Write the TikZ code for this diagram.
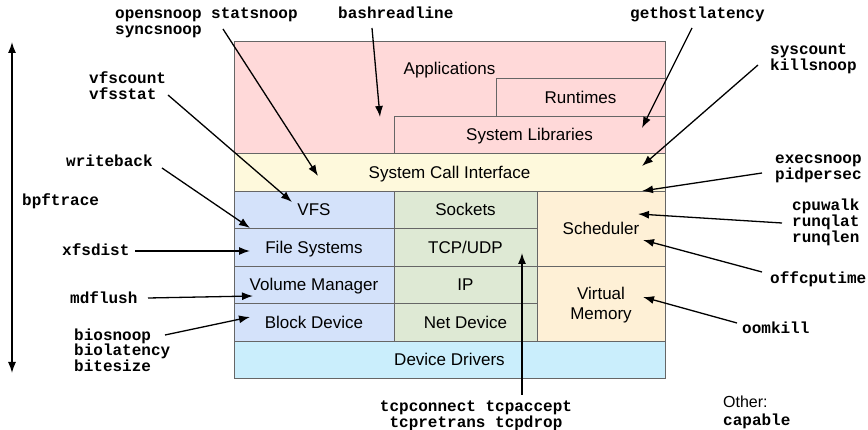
\documentclass[tikz,border=0pt]{standalone}
\usepackage{fontspec}
\setmainfont{Liberation Sans}
\setmonofont{Liberation Mono}
\usepackage{tikz}
\usetikzlibrary{arrows.meta,positioning}
\definecolor{appfill}{HTML}{FFD9D9}
\definecolor{scifill}{HTML}{FEF9DC}
\definecolor{fsfill}{HTML}{D4E2FA}
\definecolor{netfill}{HTML}{DEE9D4}
\definecolor{cpufill}{HTML}{FEF0D6}
\definecolor{devfill}{HTML}{CAEEFC}
\definecolor{edge}{HTML}{666666}
\tikzset{
  >={Latex[length=11pt,width=8pt]},
  boxtext/.style={font=\fontsize{17}{20}\selectfont, inner sep=0pt, align=center},
  box/.style={boxtext, draw=edge, line width=0.9pt, outer sep=0pt},
  layer/.style={box, text height=14pt, text depth=1.5pt},
  tool/.style={font=\ttfamily\bfseries\fontsize{16}{16}\selectfont,
    inner sep=0pt, align=left, anchor=base west},
  probe/.style={->, line width=1.3pt}
}

\begin{document}
\begin{tikzpicture}[x=1pt,y=-1pt]
  \useasboundingbox (0,0) rectangle (868,430);

  \node[box, fill=appfill, minimum width=431pt, minimum height=112pt] (apps) at (449.5,97) {};
  \node[boxtext, text height=14pt, text depth=1.5pt] (appslabel) at (449.5,68) {Applications};
  \node[layer, fill=appfill, minimum width=169pt, minimum height=38pt] (runtimes) at (580.5,97) {Runtimes};
  \node[layer, fill=appfill, minimum width=271pt, minimum height=37pt] (syslib) at (529.5,134.5) {System Libraries};
  \node[layer, fill=scifill, minimum width=431pt, minimum height=38pt] (sci) at (449.5,172) {System Call Interface};

  \node[layer, fill=fsfill, minimum width=160pt, minimum height=37.5pt] (vfs) at (314,209.75) {VFS};
  \node[layer, fill=fsfill, minimum width=160pt, minimum height=37.5pt, below=0pt of vfs] (fs) {File Systems};
  \node[layer, fill=fsfill, minimum width=160pt, minimum height=37.5pt, below=0pt of fs] (volume) {Volume Manager};
  \node[layer, fill=fsfill, minimum width=160pt, minimum height=37.5pt, below=0pt of volume] (block) {Block Device};

  \node[layer, fill=netfill, minimum width=143pt, minimum height=37.5pt, right=0pt of vfs] (sockets) {Sockets};
  \node[layer, fill=netfill, minimum width=143pt, minimum height=37.5pt, below=0pt of sockets] (tcp) {TCP/UDP};
  \node[layer, fill=netfill, minimum width=143pt, minimum height=37.5pt, below=0pt of tcp] (ip) {IP};
  \node[layer, fill=netfill, minimum width=143pt, minimum height=37.5pt, below=0pt of ip] (netdev) {Net Device};

  \node[layer, fill=cpufill, minimum width=128pt, minimum height=75pt] (sched) at (601,228.5) {Scheduler};
  \node[box, fill=cpufill, minimum width=128pt, minimum height=75pt, text height=34pt, text depth=1.5pt,
    below=0pt of sched] (vm) {Virtual\\Memory};

  \node[layer, fill=devfill, minimum width=431pt, minimum height=37pt] (drivers) at (449.5,359.5) {Device Drivers};

  % multi-line labels sit on their last baseline
  \node[tool] (opensnoop) at (115,35) {opensnoop statsnoop\\syncsnoop};
  \node[tool] (bashreadline) at (338,19) {bashreadline};
  \node[tool] (gethostlatency) at (630,19) {gethostlatency};
  \node[tool] (syscount) at (770,71) {syscount\\killsnoop};
  \node[tool] (vfscount) at (89,100) {vfscount\\vfsstat};
  \node[tool] (writeback) at (66,167) {writeback};
  \node[tool] (bpftrace) at (22,206) {bpftrace};
  \node[tool] (xfsdist) at (62,256) {xfsdist};
  \node[tool] (mdflush) at (70,304) {mdflush};
  \node[tool] (biosnoop) at (74,372) {biosnoop\\biolatency\\bitesize};
  \node[tool] (execsnoop) at (775,180) {execsnoop\\pidpersec};
  \node[tool] (cpuwalk) at (792,243) {cpuwalk\\runqlat\\runqlen};
  \node[tool] (offcputime) at (770,284) {offcputime};
  \node[tool] (oomkill) at (742,334) {oomkill};
  \node[tool, anchor=base, align=center] (tcpconnect) at (476,428) {tcpconnect tcpaccept\\tcpretrans tcpdrop};
  \node[boxtext, font=\fontsize{16}{16}\selectfont, anchor=base west] (other) at (723,407) {Other:};
  \node[tool] (capable) at (723,425) {capable};

  \coordinate (apptip) at (380,117);
  \coordinate (libtip) at (642,128);
  \coordinate (scitip) at (318,176);
  \coordinate (sysctip) at (642,166);
  \coordinate (exectip) at (642,191);
  \coordinate (vfstip) at (292,202);
  \coordinate (wbtip) at (250,228);
  \coordinate (fstip) at (250,251);
  \coordinate (voltip) at (253,296);
  \coordinate (blktip) at (250,317);
  \coordinate (cputip) at (638,214);
  \coordinate (offtip) at (643,240);
  \coordinate (vmtip) at (643,297);
  \coordinate (tcptip) at (522,253);
  \coordinate (tracetop) at (12,42);
  \coordinate (tracebottom) at (12,373);

  \draw[probe,<->] (tracetop) -- (tracebottom);

  \draw[probe] ([xshift=108pt,yshift=6pt]opensnoop.base west) -- (scitip);
  \draw[probe] ([xshift=34pt,yshift=-9pt]bashreadline.base west) -- (apptip);
  \draw[probe] ([xshift=62pt,yshift=-9pt]gethostlatency.base west) -- (libtip);
  \draw[probe] ([xshift=-12pt,yshift=6pt]syscount.base west) -- (sysctip);
  \draw[probe] ([xshift=79pt,yshift=5pt]vfscount.base west) -- (vfstip);
  \draw[probe] ([xshift=96pt,yshift=-1pt]writeback.base west) -- (wbtip);
  \draw[probe] ([xshift=73pt,yshift=5pt]xfsdist.base west) -- (fstip);
  \draw[probe] ([xshift=78pt,yshift=6pt]mdflush.base west) -- (voltip);
  \draw[probe] ([xshift=91pt,yshift=37pt]biosnoop.base west) -- (blktip);
  \draw[probe] ([xshift=-13pt,yshift=7pt]execsnoop.base west) -- (exectip);
  \draw[probe] ([xshift=-10pt,yshift=20pt]cpuwalk.base west) -- (cputip);
  \draw[probe] ([xshift=-8pt,yshift=12pt]offcputime.base west) -- (offtip);
  \draw[probe] ([xshift=-5pt,yshift=11pt]oomkill.base west) -- (vmtip);
  \draw[probe] ([xshift=46pt,yshift=33pt]tcpconnect.base) -- (tcptip);
\end{tikzpicture}
\end{document}
